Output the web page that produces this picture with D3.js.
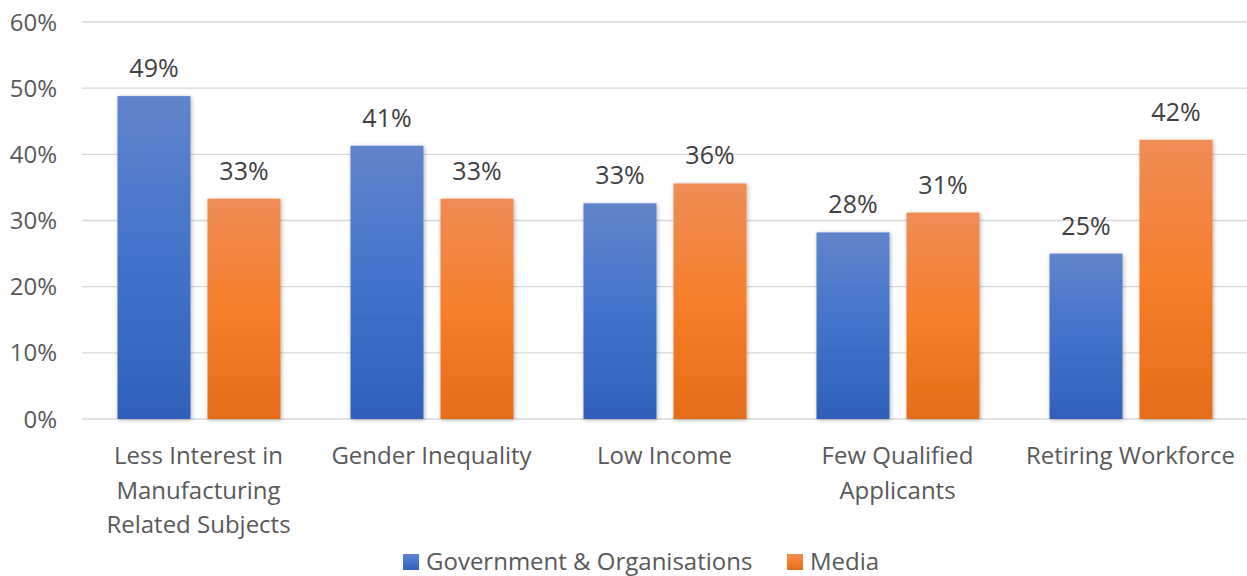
<!DOCTYPE html>
<html><head><meta charset="utf-8">
<script src="https://cdn.jsdelivr.net/npm/d3@7"></script>
<style>body{margin:0;background:#fff;}svg{display:block;font-family:"Open Sans",sans-serif;}</style>
</head><body>
<svg id="c" width="1247" height="576"></svg>
<script>
const categories = [["Less Interest in","Manufacturing","Related Subjects"],["Gender Inequality"],["Low Income"],["Few Qualified","Applicants"],["Retiring Workforce"]];
const seriesNames = ["Government & Organisations","Media"];
const govValues = [48.8, 41.3, 32.6, 28.2, 25.0];
const mediaValues = [33.3, 33.3, 35.6, 31.2, 42.2];
const yTicks = [0,10,20,30,40,50,60];

const svg = d3.select("#c");
const defs = svg.append("defs");
function grad(id, c1, c2, c3){
  const g = defs.append("linearGradient").attr("id",id).attr("x1",0).attr("y1",0).attr("x2",0).attr("y2",1);
  g.append("stop").attr("offset","0%").attr("stop-color",c1);
  g.append("stop").attr("offset","50%").attr("stop-color",c2);
  g.append("stop").attr("offset","100%").attr("stop-color",c3);
}
grad("gBlue","#6184cb","#4373cb","#2f60bb");
grad("gOrange","#f08c56","#f57f2b","#e46c19");
const f = defs.append("filter").attr("id","sh").attr("x","-20%").attr("y","-10%").attr("width","140%").attr("height","120%");
f.append("feDropShadow").attr("dx",1).attr("dy",1).attr("stdDeviation",2).attr("flood-color","#000").attr("flood-opacity",0.3);

const x0 = d3.scaleBand().domain(d3.range(categories.length)).range([82,1247]).padding(0);
const y = d3.scaleLinear().domain([0,60]).range([419,22]);

svg.append("g").selectAll("line").data(yTicks).join("line")
  .attr("x1",82).attr("x2",1247).attr("y1",d=>y(d)).attr("y2",d=>y(d))
  .attr("stroke","#d9d9d9").attr("stroke-width",1.3);

svg.append("g").selectAll("text").data(yTicks).join("text")
  .attr("x",57).attr("y",d=>y(d)).attr("dy","0.36em").attr("text-anchor","end")
  .attr("font-size",24).attr("fill","#595959").text(d=>d+"%");

const bw = 73;
const series = [{vals:govValues, fill:"url(#gBlue)", off:-81},{vals:mediaValues, fill:"url(#gOrange)", off:9}];
series.forEach(s=>{
  const g = svg.append("g");
  g.selectAll("rect").data(s.vals).join("rect")
    .attr("x",(d,i)=>x0(i)+x0.bandwidth()/2+s.off).attr("width",bw)
    .attr("y",d=>y(d)).attr("height",d=>y(0)-y(d))
    .attr("fill",s.fill).attr("filter","url(#sh)");
  g.selectAll("text").data(s.vals).join("text")
    .attr("x",(d,i)=>x0(i)+x0.bandwidth()/2+s.off+bw/2).attr("y",d=>y(d)-19)
    .attr("text-anchor","middle").attr("font-size",25).attr("fill","#404040")
    .text(d=>Math.round(d)+"%");
});

const cg = svg.append("g");
categories.forEach((lines,i)=>{
  const t = cg.append("text").attr("text-anchor","middle").attr("font-size",24).attr("fill","#595959");
  lines.forEach((l,j)=>{
    t.append("tspan").attr("x",x0(i)+x0.bandwidth()/2).attr("y",464+j*34.5).text(l);
  });
});

const leg = svg.append("g");
const legItems = [{name:seriesNames[0],fill:"url(#gBlue)",x:403},{name:seriesNames[1],fill:"url(#gOrange)",x:787}];
legItems.forEach(it=>{
  leg.append("rect").attr("x",it.x).attr("y",554).attr("width",16).attr("height",16).attr("fill",it.fill);
  leg.append("text").attr("x",it.x+23).attr("y",570).attr("font-size",24).attr("fill","#595959").text(it.name);
});
</script>
</body></html>
